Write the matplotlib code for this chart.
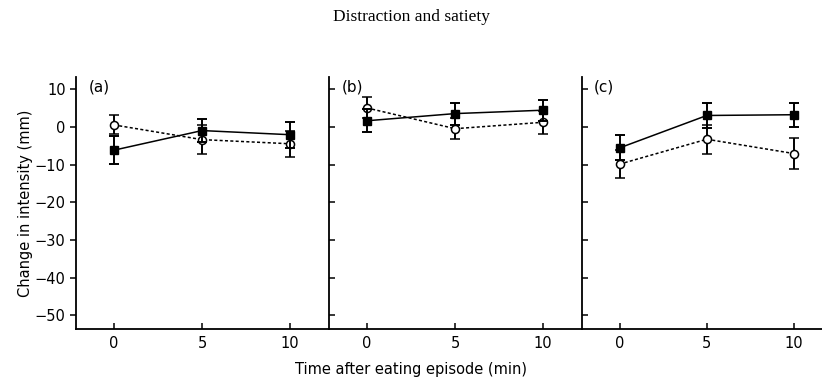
import numpy as np
import matplotlib.pyplot as plt

# time points (min)
times = [0, 5, 10]
panel_labels = ['(a)', '(b)', '(c)']

# filled squares (solid line)
filled_mean = [[-6.2, -1.0, -2.1],
               [1.6, 3.5, 4.4],
               [-5.6, 3.0, 3.2]]
filled_err = [[3.7, 3.0, 3.4],
              [3.1, 2.9, 2.8],
              [3.3, 3.2, 3.2]]

# open circles (dotted line)
open_mean = [[0.5, -3.4, -4.5],
             [5.0, -0.5, 1.2],
             [-9.9, -3.3, -7.1]]
open_err = [[2.5, 3.9, 3.4],
            [2.8, 2.8, 3.0],
            [3.8, 3.9, 4.2]]

yticks = [10, 0, -10, -20, -30, -40, -50]

plt.rcParams['font.family'] = ['DejaVu Sans']
fig = plt.figure(figsize=(8.22, 3.81), dpi=100)

left, bottom, top = 76 / 822, 1 - 329 / 381, 1 - 77 / 381
pw = 253 / 822
axes = []
for i in range(3):
    x0 = left + i * pw
    w = pw if i < 2 else 1.0 - x0
    ax = fig.add_axes([x0, bottom, w, top - bottom])
    axes.append(ax)

for i, ax in enumerate(axes):
    ax.errorbar(times, open_mean[i], yerr=open_err[i], color='black', ls=(0, (2, 1.5)),
                lw=1.1, marker='o', ms=5.8, mfc='white', mec='black', mew=1.1,
                capsize=3.5, elinewidth=1.4, capthick=1.4, zorder=3)
    ax.errorbar(times, filled_mean[i], yerr=filled_err[i], color='black', ls='-',
                lw=1.1, marker='s', ms=5.5, mfc='black', mec='black',
                capsize=3.5, elinewidth=1.4, capthick=1.4, zorder=4)
    ax.set_ylim(-53.6, 13.2)
    if i < 2:
        ax.set_xlim(-2.15, 12.2)
    else:
        ax.set_xlim(-2.15, 11.6)
    ax.set_xticks(times)
    ax.set_yticks(yticks)
    for s in ['top', 'right']:
        ax.spines[s].set_visible(False)
    for s in ['left', 'bottom']:
        ax.spines[s].set_linewidth(1.3)
    ax.tick_params(axis='x', direction='in', length=4, width=1.1, labelsize=10.5, pad=5)
    if i == 0:
        ax.tick_params(axis='y', direction='out', length=4, width=1.1, labelsize=10.5)
        ax.set_yticklabels(['10', '0', '\u221210', '\u221220', '\u221230', '\u221240', '\u221250'])
        ax.set_ylabel('Change in intensity (mm)', fontsize=10.5, labelpad=1)
    else:
        ax.tick_params(axis='y', direction='in', length=4, width=1.1, labelleft=False)
    ax.text(0.05, 0.99, panel_labels[i], transform=ax.transAxes, fontsize=11,
            ha='left', va='top')

fig.text(0.5, 0.018, 'Time after eating episode (min)', ha='center', fontsize=10.5)
fig.text(0.5, 0.955, 'Distraction and satiety', ha='center', va='center',
         fontsize=12.5, family='Liberation Serif')

fig.savefig('out.png', dpi=100)
